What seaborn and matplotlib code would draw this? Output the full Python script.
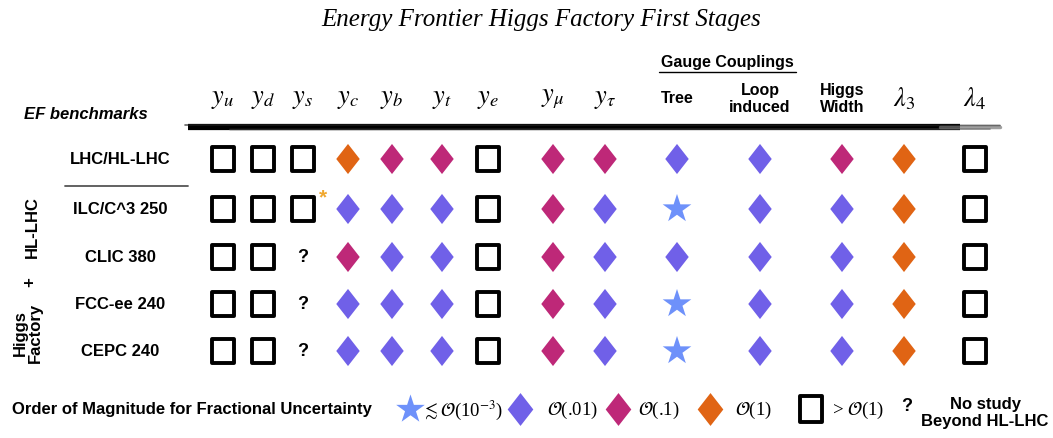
import numpy as np
import pandas as pd
import matplotlib
matplotlib.use("Agg")
import matplotlib.pyplot as plt
from matplotlib.path import Path
import seaborn as sns

# ---- data ----
columns = [r"$y_u$", r"$y_d$", r"$y_s$", r"$y_c$", r"$y_b$", r"$y_t$", r"$y_e$",
           r"$y_\mu$", r"$y_\tau$", "Tree", "Loop\ninduced", "Higgs\nWidth",
           r"$\lambda_3$", r"$\lambda_4$"]
colliders = ["LHC/HL-LHC", "ILC/C^3 250", "CLIC 380", "FCC-ee 240", "CEPC 240"]

# uncertainty level per cell: star <~1e-3, .01, .1, 1, box > O(1), none = no study
lhc = ["box", "box", "box", "1", ".1", ".1", "box", ".1", ".1", ".01", ".01", ".1", "1", "box"]
ilc = ["box", "box", "box", ".01", ".01", ".01", "box", ".1", ".01", "star", ".01", ".01", "1", "box"]
clic = ["box", "box", "none", ".1", ".01", ".01", "box", ".1", ".01", ".01", ".01", ".01", "1", "box"]
fcc = ["box", "box", "none", ".01", ".01", ".01", "box", ".1", ".01", "star", ".01", ".01", "1", "box"]
cepc = ["box", "box", "none", ".01", ".01", ".01", "box", ".1", ".01", "star", ".01", ".01", "1", "box"]
footnote = ("ILC/C^3 250", r"$y_s$")

legend_levels = ["star", ".01", ".1", "1", "box", "none"]
legend_labels = [r"$\lesssim \mathcal{O}$(10$^{-3}$)", r"$\mathcal{O}$(.01)", r"$\mathcal{O}$(.1)",
                 r"$\mathcal{O}$(1)", r"> $\mathcal{O}$(1)", "No study\nBeyond HL-LHC"]

# ---- layout (pixel canvas) ----
col_x = [223, 263, 303, 348, 392, 442, 488, 553, 605, 677, 760, 842, 904, 975]
row_y = [160, 210, 258, 305, 352]
legend_x = [410, 520, 618, 710, 811, 907]
legend_text_x = [422, 547, 638, 735, 832, 985]
legend_y = 410

palette = {"star": "#6E91FA", ".01": "#7060E8", ".1": "#BE2878", "1": "#E06414"}
diamond = Path([(0, 0.5), (0.39, 0), (0, -0.5), (-0.39, 0), (0, 0.5)],
               [Path.MOVETO, Path.LINETO, Path.LINETO, Path.LINETO, Path.CLOSEPOLY])
box = Path([(-0.45, -0.5), (0.45, -0.5), (0.45, 0.5), (-0.45, 0.5), (-0.45, -0.5)],
           [Path.MOVETO, Path.LINETO, Path.LINETO, Path.LINETO, Path.CLOSEPOLY])
markers = {"star": "*", ".01": diamond, ".1": diamond, "1": diamond}

sns.set_style("white")
plt.rcParams["font.family"] = ["Liberation Sans", "DejaVu Sans"]
plt.rcParams["mathtext.fontset"] = "stix"
plt.rcParams["text.color"] = "black"

records = []
for name, levels in zip(colliders, [lhc, ilc, clic, fcc, cepc]):
    for col, lev in zip(columns, levels):
        records.append({"collider": name, "coupling": col, "level": lev,
                        "x": col_x[columns.index(col)], "y": row_y[colliders.index(name)]})
df = pd.DataFrame(records)

fig = plt.figure(figsize=(10.53, 4.39), dpi=100)
ax = fig.add_axes([0, 0, 1, 1])
ax.set_xlim(0, 1053)
ax.set_ylim(439, 0)
ax.axis("off")

# coloured markers
filled = df[df["level"].isin(palette.keys())]
sns.scatterplot(data=filled, x="x", y="y", hue="level", style="level", palette=palette,
                markers=markers, s=470, linewidth=0, legend=False, ax=ax)

# > O(1) boxes
boxes = df[df["level"] == "box"]
sns.scatterplot(data=boxes, x="x", y="y", marker=box, s=300, color="white",
                edgecolor="black", linewidth=2.8, legend=False, ax=ax)

# no study
for _, r in df[df["level"] == "none"].iterrows():
    ax.text(r["x"], r["y"], "?", fontsize=13, fontweight="bold", ha="center", va="center")

# footnote asterisk
ax.text(col_x[columns.index(footnote[1])] + 20, row_y[colliders.index(footnote[0])] - 12,
        "*", fontsize=15, fontweight="bold", color="#F0A830", ha="center", va="center")

# title
ax.text(541, 20, "Energy Frontier Higgs Factory First Stages", fontsize=18,
        family="Liberation Serif", style="italic", ha="center", va="center")

# column headers
for col, x in zip(columns, col_x):
    if col.startswith("$"):
        ax.text(x, 99, col, fontsize=19, ha="center", va="center")
    else:
        ax.text(x, 99, col, fontsize=11.5, fontweight="bold", ha="center", va="center",
                linespacing=1.15)
ax.text(727, 63, "Gauge Couplings", fontsize=11.5, fontweight="bold", ha="center", va="center")
ax.plot([659, 796], [73, 73], color="black", lw=1)
ax.text(24, 115, "EF benchmarks", fontsize=12, fontweight="bold", style="italic",
        ha="left", va="center")

# brush stroke under the header
ax.plot([188, 960], [128, 128], color="black", lw=4.5, solid_capstyle="butt")
ax.plot([185, 1000], [126, 126.5], color="#222222", lw=1.2, alpha=0.7)
ax.plot([230, 990], [130.5, 130], color="#444444", lw=1.2, alpha=0.6)
ax.plot([940, 1000], [128, 128], color="#777777", lw=2.5, alpha=0.7)

# row labels
for name, y in zip(colliders, row_y):
    ax.text(120, y, name, fontsize=12, fontweight="bold", ha="center", va="center")
ax.plot([65, 188], [187, 187], color="#555555", lw=1.3)
ax.text(32, 227, "HL-LHC", fontsize=12, fontweight="bold", rotation=90, ha="center", va="center")
ax.text(30, 282, "+", fontsize=12, fontweight="bold", rotation=90, ha="center", va="center")
ax.text(28, 333, "Higgs\nFactory", fontsize=12, fontweight="bold", rotation=90,
        ha="center", va="center", linespacing=1.0)

# legend row
ax.text(12, legend_y, "Order of Magnitude for Fractional Uncertainty", fontsize=12,
        fontweight="bold", ha="left", va="center")
for lev, lx, tx, lab in zip(legend_levels, legend_x, legend_text_x, legend_labels):
    if lev in palette:
        ax.scatter(lx, legend_y, marker=markers[lev], s=470 if lev == "star" else 560,
                   color=palette[lev], linewidth=0)
        ax.text(tx, legend_y, lab, fontsize=13.5, family="Liberation Serif", ha="left", va="center")
    elif lev == "box":
        ax.scatter(lx, legend_y, marker=box, s=330, color="white", edgecolor="black", linewidth=2.8)
        ax.text(tx, legend_y, lab, fontsize=13.5, family="Liberation Serif", ha="left", va="center")
    else:
        ax.text(lx, legend_y - 3, "?", fontsize=13, fontweight="bold", ha="center", va="center")
        ax.text(tx, legend_y + 3, lab, fontsize=12, fontweight="bold", ha="center", va="center",
                linespacing=1.1)

fig.savefig("out.png", dpi=100)
